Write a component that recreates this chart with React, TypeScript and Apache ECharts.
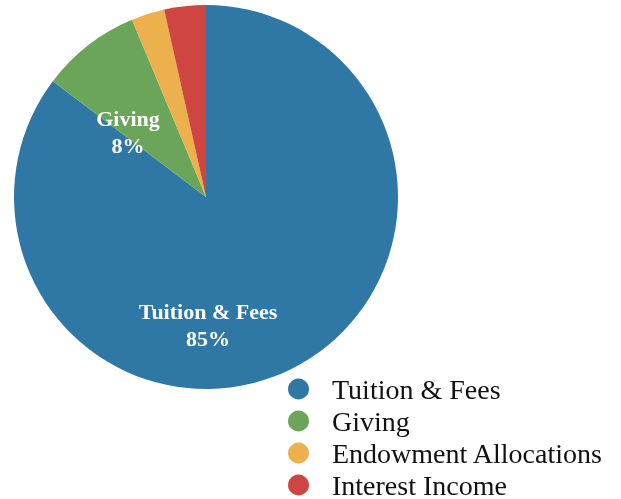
import React, { useEffect, useRef } from "react";
import * as echarts from "echarts";

const categories = ["Tuition & Fees", "Giving", "Endowment Allocations", "Interest Income"];
const shares = [85.3, 8.4, 2.8, 3.5];
const colors = ["#2f78a6", "#6ba55a", "#ecb04c", "#cf4541"];
const showLabel = [true, true, false, false];

const FONT = "'Liberation Serif', 'Times New Roman', serif";

export default function App() {
  const ref = useRef<HTMLDivElement>(null);
  useEffect(() => {
    if (!ref.current) return;
    const chart = echarts.init(ref.current, undefined, { renderer: "svg" });
    const labelPos: Record<number, [number, number]> = { 0: [208, 324.5], 1: [128, 132] };
    chart.setOption({
      animation: false,
      legend: {
        orient: "vertical",
        left: 288,
        top: 375,
        height: 160,
        padding: 0,
        icon: "circle",
        itemWidth: 21,
        itemHeight: 21,
        itemGap: 4,
        selectedMode: false,
        data: categories,
        textStyle: {
          fontFamily: FONT,
          fontSize: 28,
          color: "#111",
          padding: [0, 0, 0, 18],
        },
      },
      series: [
        {
          type: "pie",
          center: [206, 197],
          radius: 192,
          startAngle: 90,
          clockwise: true,
          percentPrecision: 0,
          emphasis: { disabled: true },
          silent: true,
          label: {
            position: "inside",
            formatter: "{b}\n{d}%",
            fontFamily: FONT,
            fontSize: 22,
            fontWeight: "bold",
            lineHeight: 27,
            color: "#fff",
          },
          labelLine: { show: false },
          labelLayout: (p: any) => {
            const pos = labelPos[p.dataIndex];
            if (!pos) return {};
            return { x: pos[0], y: pos[1], align: "center", verticalAlign: "middle" };
          },
          data: categories.map((name, i) => ({
            name,
            value: shares[i],
            itemStyle: { color: colors[i] },
            label: { show: showLabel[i] },
          })),
        },
      ],
    });
    return () => chart.dispose();
  }, []);
  return (
    <div
      ref={ref}
      style={{ position: "fixed", left: 0, top: 0, width: 621, height: 499 }}
    />
  );
}
